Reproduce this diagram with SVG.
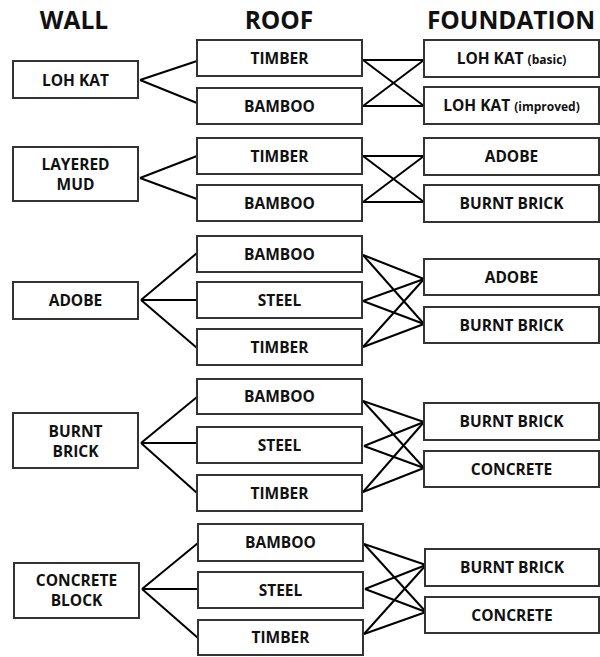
<svg xmlns="http://www.w3.org/2000/svg" width="600" height="657" viewBox="0 0 600 657">
<style>
  .box { fill: #ffffff; stroke: #333333; stroke-width: 2; }
  .lbl { font-family: "Open Sans", "Liberation Sans", sans-serif; font-weight: bold; font-size: 15.5px; fill: #111111; text-anchor: middle; }
  .sm { font-size: 12px; }
  .hdr { font-family: "Open Sans", "Liberation Sans", sans-serif; font-weight: bold; font-size: 24.5px; fill: #111111; text-anchor: middle; }
  .conn line { stroke: #000000; stroke-width: 2; }
</style>
<rect width="600" height="657" fill="#ffffff"/>
<g id="headers">
  <text class="hdr" x="74" y="29">WALL</text>
  <text class="hdr" x="279" y="29">ROOF</text>
  <text class="hdr" x="511" y="29">FOUNDATION</text>
</g>
<g id="connectors" class="conn">
  <line x1="140" y1="80" x2="197" y2="61"/>
  <line x1="140" y1="80" x2="197" y2="103"/>
  <line x1="363" y1="60" x2="424" y2="60"/>
  <line x1="363" y1="106" x2="424" y2="106"/>
  <line x1="363" y1="60" x2="424" y2="106"/>
  <line x1="363" y1="106" x2="424" y2="60"/>
  <line x1="140" y1="178" x2="197" y2="156"/>
  <line x1="140" y1="178" x2="197" y2="199"/>
  <line x1="363" y1="156" x2="424" y2="156"/>
  <line x1="363" y1="202" x2="424" y2="202"/>
  <line x1="363" y1="156" x2="424" y2="202"/>
  <line x1="363" y1="202" x2="424" y2="156"/>
  <line x1="141" y1="300" x2="197" y2="253"/>
  <line x1="141" y1="300" x2="197" y2="300"/>
  <line x1="141" y1="300" x2="197" y2="348"/>
  <line x1="363" y1="255" x2="424" y2="279"/>
  <line x1="363" y1="255" x2="424" y2="324"/>
  <line x1="363" y1="301" x2="424" y2="279"/>
  <line x1="363" y1="301" x2="424" y2="324"/>
  <line x1="363" y1="347" x2="424" y2="279"/>
  <line x1="363" y1="347" x2="424" y2="324"/>
  <line x1="141" y1="443" x2="197" y2="397"/>
  <line x1="141" y1="443" x2="197" y2="443"/>
  <line x1="141" y1="443" x2="197" y2="493"/>
  <line x1="363" y1="401" x2="424" y2="422"/>
  <line x1="363" y1="401" x2="424" y2="468"/>
  <line x1="364" y1="446" x2="424" y2="422"/>
  <line x1="364" y1="446" x2="424" y2="468"/>
  <line x1="363" y1="492" x2="424" y2="422"/>
  <line x1="363" y1="492" x2="424" y2="468"/>
  <line x1="142" y1="589" x2="198" y2="543"/>
  <line x1="142" y1="589" x2="198" y2="589"/>
  <line x1="142" y1="589" x2="198" y2="638"/>
  <line x1="364" y1="544" x2="426" y2="565"/>
  <line x1="364" y1="544" x2="426" y2="612"/>
  <line x1="365" y1="589" x2="426" y2="565"/>
  <line x1="365" y1="589" x2="426" y2="612"/>
  <line x1="364" y1="634" x2="426" y2="565"/>
  <line x1="364" y1="634" x2="426" y2="612"/>
</g>
<g id="wall-lohkat"><rect class="box" x="13" y="61" width="125" height="37"/><text class="lbl" x="75.5" y="85.5">LOH KAT</text></g>
<g id="wall-layeredmud"><rect class="box" x="13" y="147" width="125" height="54"/><text class="lbl" x="75.5" y="170">LAYERED</text><text class="lbl" x="75.5" y="190">MUD</text></g>
<g id="wall-adobe"><rect class="box" x="13" y="282" width="125" height="37"/><text class="lbl" x="75.5" y="306">ADOBE</text></g>
<g id="wall-burntbrick"><rect class="box" x="13" y="413" width="125" height="55"/><text class="lbl" x="75.5" y="437">BURNT</text><text class="lbl" x="75.5" y="457">BRICK</text></g>
<g id="wall-concreteblock"><rect class="box" x="14" y="563" width="125" height="55"/><text class="lbl" x="76.5" y="586">CONCRETE</text><text class="lbl" x="76.5" y="606">BLOCK</text></g>

<g id="roof-1-timber"><rect class="box" x="197" y="40" width="165" height="36"/><text class="lbl" x="279.5" y="63.5">TIMBER</text></g>
<g id="roof-1-bamboo"><rect class="box" x="197" y="88" width="165" height="36"/><text class="lbl" x="279.5" y="111.5">BAMBOO</text></g>
<g id="roof-2-timber"><rect class="box" x="197" y="138" width="165" height="36"/><text class="lbl" x="279.5" y="161.5">TIMBER</text></g>
<g id="roof-2-bamboo"><rect class="box" x="197" y="185" width="165" height="36"/><text class="lbl" x="279.5" y="208.5">BAMBOO</text></g>
<g id="roof-3-bamboo"><rect class="box" x="197" y="236" width="165" height="36"/><text class="lbl" x="279.5" y="259.5">BAMBOO</text></g>
<g id="roof-3-steel"><rect class="box" x="197" y="282" width="165" height="36"/><text class="lbl" x="279.5" y="305.5">STEEL</text></g>
<g id="roof-3-timber"><rect class="box" x="197" y="329" width="165" height="36"/><text class="lbl" x="279.5" y="352.5">TIMBER</text></g>
<g id="roof-4-bamboo"><rect class="box" x="197" y="379" width="165" height="35"/><text class="lbl" x="279.5" y="402">BAMBOO</text></g>
<g id="roof-4-steel"><rect class="box" x="197" y="427" width="165" height="36"/><text class="lbl" x="279.5" y="450.5">STEEL</text></g>
<g id="roof-4-timber"><rect class="box" x="197" y="475" width="165" height="36"/><text class="lbl" x="279.5" y="498.5">TIMBER</text></g>
<g id="roof-5-bamboo"><rect class="box" x="198" y="524" width="165" height="37"/><text class="lbl" x="280.5" y="548">BAMBOO</text></g>
<g id="roof-5-steel"><rect class="box" x="198" y="572" width="165" height="36"/><text class="lbl" x="280.5" y="595.5">STEEL</text></g>
<g id="roof-5-timber"><rect class="box" x="198" y="620" width="165" height="35"/><text class="lbl" x="280.5" y="643">TIMBER</text></g>

<g id="found-1-lohkat-basic"><rect class="box" x="424" y="40" width="175" height="37"/><text class="lbl" x="511.5" y="63.5">LOH KAT <tspan class="sm">(basic)</tspan></text></g>
<g id="found-1-lohkat-improved"><rect class="box" x="424" y="87" width="175" height="37"/><text class="lbl" x="511.5" y="110.5">LOH KAT <tspan class="sm">(improved)</tspan></text></g>
<g id="found-2-adobe"><rect class="box" x="424" y="138" width="175" height="37"/><text class="lbl" x="511.5" y="161.5">ADOBE</text></g>
<g id="found-2-burntbrick"><rect class="box" x="424" y="185" width="175" height="37"/><text class="lbl" x="511.5" y="208.5">BURNT BRICK</text></g>
<g id="found-3-adobe"><rect class="box" x="424" y="259" width="175" height="36"/><text class="lbl" x="511.5" y="282.5">ADOBE</text></g>
<g id="found-3-burntbrick"><rect class="box" x="424" y="307" width="175" height="36"/><text class="lbl" x="511.5" y="330.5">BURNT BRICK</text></g>
<g id="found-4-burntbrick"><rect class="box" x="424" y="403" width="175" height="37"/><text class="lbl" x="511.5" y="426.5">BURNT BRICK</text></g>
<g id="found-4-concrete"><rect class="box" x="424" y="451" width="175" height="36"/><text class="lbl" x="511.5" y="474.5">CONCRETE</text></g>
<g id="found-5-burntbrick"><rect class="box" x="425" y="549" width="174" height="37"/><text class="lbl" x="512" y="572.5">BURNT BRICK</text></g>
<g id="found-5-concrete"><rect class="box" x="425" y="597" width="174" height="36"/><text class="lbl" x="512" y="620.5">CONCRETE</text></g>
</svg>
